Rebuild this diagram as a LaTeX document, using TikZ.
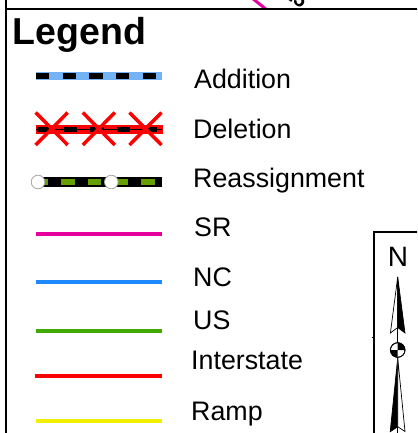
\documentclass[tikz,border=0pt]{standalone}
\usepackage{fontspec}
\setmainfont{Liberation Sans}
\definecolor{addblue}{RGB}{115,178,245}
\definecolor{reagreen}{RGB}{102,160,0}
\definecolor{srmag}{RGB}{230,0,158}
\definecolor{ncblue}{RGB}{30,136,255}
\definecolor{usgreen}{RGB}{64,170,0}
\definecolor{istred}{RGB}{255,0,0}
\definecolor{rampyel}{RGB}{240,240,0}
\begin{document}
\begin{tikzpicture}[x=1pt,y=-1pt,
  lbl/.style={anchor=base west, inner sep=0pt, font=\fontsize{26.8}{30}\selectfont},
  keyline/.style={line width=4pt},
  dashpat/.style={dash pattern=on 13.33pt off 13.33pt}]
\useasboundingbox (0,0) rectangle (417,433);
\begin{scope}
\clip (0,0) rectangle (417,433);
% top strip fragment (map above the legend)
\begin{scope}
\clip (8,-5) rectangle (417,8.5);
\draw[srmag, line width=3pt] (252,-2) -- (267,10);
\node[rotate=-35, font=\bfseries\fontsize{20}{22}\selectfont, inner sep=0pt] (frag) at (296,-3) {25};
\end{scope}
% frame lines
\draw[line width=2.3pt] (6.3,-2) -- (6.3,440);
\draw[line width=2pt] (6.3,9.5) -- (420,9.5);
% title
\node[anchor=base west, inner sep=0pt, font=\bfseries\fontsize{37.5}{40}\selectfont] (legend) at (12.5,45) {Legend};
% Addition
\draw[addblue, line width=8.5pt] (36,76) -- (162,76);
\draw[black, line width=6pt, dashpat] (36,76) -- (162,76);
\node[lbl] (tadd) at (194,88.3) {Addition};
% Deletion
\draw[istred, line width=9pt] (35.5,129.3) -- (162.5,129.3);
\draw[black, line width=1.5pt] (36,129.3) -- (162,129.3);
\draw[black, line width=5.5pt, dashpat] (37,129.3) -- (162,129.3);
\foreach \cx in {51.7,98.8,145.5}{
  \draw[istred, line width=3.5pt] (\cx-16,112.5) -- (\cx+16,145);
  \draw[istred, line width=3.5pt] (\cx-16,145) -- (\cx+16,112.5);
}
\node[lbl] (tdel) at (193,138) {Deletion};
% Reassignment
\draw[black, line width=10.5pt] (36,182) -- (161.5,182);
\draw[reagreen, line width=6pt, dash pattern=on 13.33pt off 13.33pt] (34.7,182) -- (158,182);
\foreach \cx in {38,111.3}{
  \draw[gray!70, fill=white, line width=0.8pt] (\cx,182) circle[radius=6.8];
}
\node[lbl] (trea) at (193,187) {Reassignment};
% road classes
\draw[keyline, srmag] (36,233.7) -- (162,233.7);
\node[lbl] (tsr) at (194,236) {SR};
\draw[keyline, ncblue] (36,282.3) -- (162,282.3);
\node[lbl] (tnc) at (193,286) {NC};
\draw[keyline, usgreen] (36,331) -- (162,331);
\node[lbl] (tus) at (193,329.5) {US};
\draw[keyline, istred] (35,376.3) -- (162,376.3);
\node[lbl] (tint) at (191,369.5) {Interstate};
\draw[keyline, rampyel] (36,420.7) -- (162,420.7);
\node[lbl] (tramp) at (191,420) {Ramp};
% compass box
\draw[line width=2pt] (374,440) -- (374,232) -- (420,232);
\draw[line width=1pt] (371.5,337.5) -- (374,337.5);
\node[anchor=base, inner sep=0pt, font=\fontsize{28}{30}\selectfont] (north) at (398,266.7) {N};
% needle
\coordinate (ctr) at (397.7,350);
\draw[line width=0.9pt] (397.7,277) -- (397.7,440);
\draw[fill=white, line width=0.7pt] (397.7,277) -- (390.4,333) -- (397.7,327.5) -- cycle;
\draw[fill=black, line width=0.7pt] (397.7,277) -- (397.7,327.5) -- (405,333) -- cycle;
\draw[fill=black, line width=0.7pt] (397.7,358) -- (390.2,431.7) -- (397.7,426.7) -- cycle;
\draw[fill=white, line width=0.7pt] (397.7,358) -- (397.7,426.7) -- (405,431.5) -- cycle;
\draw[fill=white, line width=0.8pt] (ctr) circle[radius=7.3];
\fill (ctr) -- (405,350) arc[start angle=0, end angle=-90, radius=7.3] -- cycle;
\fill (ctr) -- (390.4,350) arc[start angle=180, end angle=90, radius=7.3] -- cycle;
\draw[line width=0.8pt] (ctr) circle[radius=7.3];
\end{scope}
\end{tikzpicture}
\end{document}
